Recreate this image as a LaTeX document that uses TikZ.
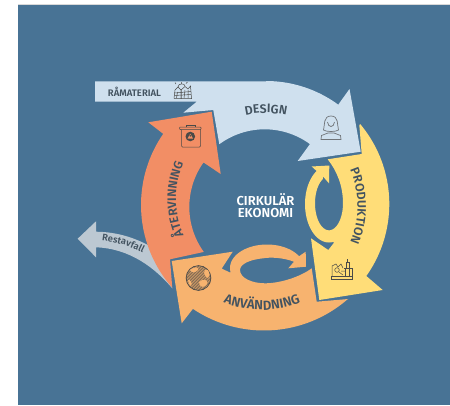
\documentclass[tikz,border=0pt]{standalone}
\usepackage{fontspec}
\setmainfont{Fira Sans}[BoldFont={Fira Sans SemiBold}]
\usetikzlibrary{decorations.text}
\definecolor{bgblue}{HTML}{487395}
\definecolor{designc}{HTML}{CFE0EE}
\definecolor{orangec}{HTML}{F28E65}
\definecolor{yellowc}{HTML}{FFDD78}
\definecolor{peachc}{HTML}{F7B36F}
\definecolor{greyc}{HTML}{BCC8D2}
\definecolor{inkc}{HTML}{435360}
\definecolor{iconc}{HTML}{4A4A48}
\tikzset{
  capfont/.style={font=\bfseries\fontsize{#1}{#1}\selectfont},
  inklabel/.style={text=inkc,inner sep=0pt},
  curvetext/.style={decorate,decoration={text along path,text align=center,
     text={|\bfseries\fontsize{12.3}{12.3}\selectfont\color{inkc}|#1}}},
  widetext/.style={decorate,decoration={text along path,text align=center,
     text={|\bfseries\fontsize{13.2}{13.2}\selectfont\color{inkc}|#1}}},
  smalltext/.style={decorate,decoration={text along path,text align=center,
     text={|\bfseries\fontsize{9.4}{9.4}\selectfont\color{inkc}|#1}}},
  iconline/.style={draw=iconc,line width=.5pt},
  personline/.style={draw=#1,line width=.7pt},
  sweep/.style={samples=40}
}
% arc as one cubic: centre x, centre y, radius, start angle, end angle (image y runs down)
\newcommand{\textarc}[5]{%
  \pgfmathsetmacro{\ka}{4/3*tan((#5-#4)/4)*#3}%
  \pgfmathsetmacro{\axs}{#1+#3*cos(#4)}\pgfmathsetmacro{\ays}{#2+#3*sin(#4)}%
  \pgfmathsetmacro{\axe}{#1+#3*cos(#5)}\pgfmathsetmacro{\aye}{#2+#3*sin(#5)}%
  \pgfmathsetmacro{\bxs}{\axs-\ka*sin(#4)}\pgfmathsetmacro{\bys}{\ays+\ka*cos(#4)}%
  \pgfmathsetmacro{\bxe}{\axe+\ka*sin(#5)}\pgfmathsetmacro{\bye}{\aye-\ka*cos(#5)}%
}
\begin{document}
\begin{tikzpicture}[x=1pt,y=-1pt]
\useasboundingbox (0,0) rectangle (450,405);
\fill[white] (0,0) rectangle (450,405);
\fill[gray!30] (18,4) rectangle (450,4.8);
\fill[bgblue] (18,4.6) rectangle (450,405);
% grey residual arrow
\fill[greyc] (77.7,238.7) -- (96,221.3) -- (96,231.7)
  .. controls (118,232) and (138,238) .. (160,252)
  -- (172.3,288.3)
  .. controls (155,268) and (130,248.5) .. (96,247.3)
  -- (96,257.3) -- cycle;
% design
\fill[designc] (95,81.3) -- (266,81.3)
  -- plot[sweep,domain=-90:-53.7] ({266+122*cos(\x)},{203+122*sin(\x)})
  -- (349.5,89) -- (360.7,151.7) -- (297.7,161) -- (310,144)
  -- plot[sweep,domain=-53.8:-126.4] ({264.7+76.5*cos(\x)},{205.8+76.5*sin(\x)})
  -- (213.3,110) -- (183.3,112.7) -- (196.7,101.7) -- (95,101.7) -- cycle;
% orange
\fill[orangec] (211.7,111.7) -- (220.7,174) -- (203.3,162.3)
  -- plot[sweep,domain=215.4:144.3] ({266.3+77*cos(\x)},{207+77*sin(\x)})
  -- (170,259.3) -- (172.3,288.3)
  -- plot[sweep,domain=138.4:214.7] ({266+125*cos(\x)},{205+125*sin(\x)})
  -- (148.3,122.3) -- cycle;
% yellow
\fill[yellowc] (359.3,125)
  -- plot[sweep,domain=-40:35.4] ({265+124.3*cos(\x)},{204+124.3*sin(\x)})
  -- (382.7,290) -- (319.3,300) -- (311,238.3) -- (328.3,250) -- (334.3,242.3)
  -- plot[sweep,domain=82:239] ({329+24*cos(\x)},{204+38.5*sin(\x)})
  -- (311.7,166.5) -- (329.3,165.5) -- (329,183.3) -- (323,176.5)
  -- plot[sweep,domain=244:0] ({329+14*cos(\x)},{203.3+27*sin(\x)})
  .. controls (343,186) and (337,171) .. (327.7,159.3)
  -- (361.7,154) -- cycle;
% peach
\fill[peachc] (171.7,261) -- (232.7,251.7) -- (221.7,268.6) -- (230,272.5)
  -- plot[sweep,domain=170:330] ({267+37*cos(\x)},{268+23.5*sin(\x)})
  -- (305.7,251.7) -- (306,266.7) -- (288.3,268.3) -- (294,261.7)
  .. controls (283,257.5) and (270,257) .. (263.3,258.3)
  .. controls (250,259.5) and (240,264) .. (240,270)
  .. controls (240,278) and (252,283.3) .. (265,283.3)
  .. controls (280,283.3) and (300,277) .. (311.7,268.3)
  -- (316.7,301.7) -- (348.3,299)
  -- plot[sweep,domain=48.7:123.9] ({264+127.5*cos(\x)},{203+127.5*sin(\x)})
  -- (181.7,323.3) -- cycle;
% centre label
\node[capfont=13,text=white,align=center,inner sep=0pt] (centre) at (265.5,205.5)
  {CIRKULÄR\\[-.5pt]EKONOMI};
\node[capfont=9.5,inklabel] (raw) at (134.5,91.5) {RÅMATERIAL};
% curved labels
\textarc{266}{204}{91}{-108}{-72}
\path[curvetext=DESIGN] (\axs,\ays) .. controls (\bxs,\bys) and (\bxe,\bye) .. (\axe,\aye);
\textarc{266}{206}{91.5}{-40}{40}
\path[curvetext=PRODUKTION] (\axs,\ays) .. controls (\bxs,\bys) and (\bxe,\bye) .. (\axe,\aye);
\textarc{262}{204}{106}{125}{55}
\path[widetext=ANVÄNDNING] (\axs,\ays) .. controls (\bxs,\bys) and (\bxe,\bye) .. (\axe,\aye);
\textarc{266}{199}{90}{140}{220}
\path[curvetext=ÅTERVINNING] (\axs,\ays) .. controls (\bxs,\bys) and (\bxe,\bye) .. (\axe,\aye);
\path[smalltext=Restavfall] (98,240) .. controls (112,241) and (130,245.5) .. (146,254.5);
% raw material icon
\begin{scope}[iconline]
  \draw (174,98.5) -- (175,90) -- (178,87) -- (181,90) -- (181,98.5);
  \draw (181,98.5) -- (181,90) -- (185,86.5) -- (188,89) -- (190.5,86) -- (191.5,98.5) -- (174,98.5);
  \draw (174.5,93) -- (191,91.5) (174.5,95.5) -- (191,94.5);
  \draw (177.5,92) -- (176.5,98) (185,90) -- (184,98) (188,90) -- (188,98);
  \draw (178,87) .. controls (178,83) and (185,83) .. (185,86);
  \draw (176,84) -- (175,82.5) (181.5,82) -- (181.5,84) (186,83.5) -- (187.5,82);
\end{scope}
% person icon
\draw[personline=gray!75!inkc] (323.5,130) .. controls (325,125) and (323,116) .. (331,116)
   .. controls (339,116) and (337,125) .. (338.5,130) .. controls (336,132) and (326,132) .. cycle;
\draw[personline=gray!75!inkc] (327.5,122) .. controls (328,128) and (334,128) .. (334.5,122);
\draw[personline=gray!75!inkc] (321,139.5) -- (321.5,135.5) -- (328,133) -- (334,133) -- (340.5,135.5) -- (341,139.5) -- cycle;
% bin icon
\draw[iconline,rounded corners=1pt] (181.5,129) -- (181.5,147) -- (200.5,147) -- (200.5,129);
\draw[iconline,fill=orangec,rounded corners=.8pt] (179.5,127) rectangle (201,129.5);
\draw[iconline] (186,127) -- (186,125) -- (195,125) -- (195,127);
\fill[iconc] (190.3,136.5) circle[radius=4.8pt];
\fill[orangec] (190.3,133.7) -- (193,138.5) -- (187.6,138.5) -- cycle;
\fill[iconc] (190.3,135.8) circle[radius=.9pt];
% globe icon
\fill[peachc!70!iconc] (198.5,278) circle[radius=12.4pt];
\begin{scope}
  \clip (198.5,278) circle[radius=12.4pt];
  \foreach \h in {-24,-21,...,24} {
    \draw[iconc,line width=.35pt] (198.5+\h-14,292) -- (198.5+\h+14,264);
  }
\end{scope}
\draw[iconc,line width=.7pt] (198.5,278) circle[radius=12.4pt];
\fill[peachc] (205,270) .. controls (209,268) and (211,275) .. (208,278) .. controls (205,277) and (203,273) .. cycle;
\fill[peachc] (199,282) .. controls (203,278) and (209,280) .. (207,284) .. controls (205,288) and (199,288) .. cycle;
\fill[peachc] (190,270) .. controls (194,266) and (200,267) .. (198,270) .. controls (195,273) and (192,273) .. cycle;
\fill[peachc] (188,280) .. controls (190,279) and (193,283) .. (191,286) .. controls (189,285) and (188,283) .. cycle;
% factory icon
\begin{scope}[iconline]
  \draw (331,279) rectangle (352.5,276.5);
  \draw (332,276.5) -- (332,266) -- (336,264) -- (338,267) -- (341,264) -- (343,268);
  \draw (345,276.5) -- (345,268) (349.5,276.5) -- (349.5,262) -- (345.8,262) -- (345.8,268);
  \draw (347.7,262) -- (347.7,258.5);
  \draw (344,268) -- (352,268) -- (352,276.5);
  \draw (337,270) circle[radius=2.3pt];
  \draw (339,272) -- (343,275) (341,271) -- (345,271);
\end{scope}
\end{tikzpicture}
\end{document}
